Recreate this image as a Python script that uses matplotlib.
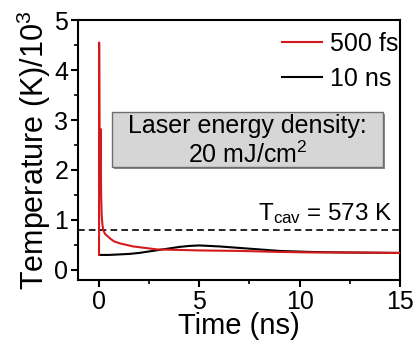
import numpy as np
import matplotlib
matplotlib.use('Agg')
import matplotlib.pyplot as plt
from matplotlib.patches import Rectangle

plt.rcParams['font.family'] = 'Liberation Sans'
plt.rcParams['mathtext.fontset'] = 'custom'
plt.rcParams['mathtext.rm'] = 'Liberation Sans'
plt.rcParams['mathtext.it'] = 'Liberation Sans:italic'

# 500 fs pulse
t_fs = [0, 0.005, 0.03, 0.08, 0.1, 0.13, 0.17, 0.21, 0.3, 0.55, 0.75, 1.05, 1.7, 2.3, 2.9, 4, 5, 7, 9, 10.5, 12, 15]
T_fs = [0.3, 4.55, 1.7, 2.82, 1.6, 1.1, 0.9, 0.8, 0.72, 0.63, 0.57, 0.53, 0.47, 0.44, 0.41, 0.40, 0.39, 0.38, 0.36, 0.35, 0.35, 0.34]

# 10 ns pulse
t_ns = [0, 0.5, 1, 1.5, 2, 2.5, 3, 3.5, 4, 4.5, 5, 5.5, 6, 7, 8, 9, 10.5, 12, 15]
T_ns = [0.3, 0.3, 0.31, 0.32, 0.34, 0.37, 0.40, 0.43, 0.46, 0.48, 0.49, 0.48, 0.47, 0.44, 0.41, 0.38, 0.36, 0.35, 0.34]

T_cav = 0.8

fig = plt.figure(figsize=(4.17, 3.46), dpi=100)
ax = fig.add_axes([0.187, 0.191, 0.772, 0.751])

ax.plot(t_fs, T_fs, color='#d7191c', lw=1.5, label='500 fs', zorder=3)
ax.plot(t_ns, T_ns, color='black', lw=1.5, label='10 ns', zorder=2)
ax.axhline(T_cav, color='black', ls=(0, (4, 2.5)), lw=1.2)

ax.set_xlim(-1.05, 15)
ax.set_ylim(-0.2, 5)
ax.set_xticks([0, 5, 10, 15])
ax.set_yticks([0, 1, 2, 3, 4, 5])
ax.set_xticks([2.5, 7.5, 12.5], minor=True)
ax.set_yticks(np.arange(0.5, 5, 1), minor=True)
ax.tick_params(which='major', direction='out', length=5, width=1.5, labelsize=18, pad=2)
ax.tick_params(which='minor', direction='out', length=3, width=1.2)
for s in ax.spines.values():
    s.set_linewidth(1.5)

ax.set_xlabel('Time (ns)', fontsize=21, labelpad=-1)
ax.set_ylabel('Temperature (K)/10$^3$', fontsize=22, labelpad=1)

# annotation box with shadow
ax.add_patch(Rectangle((0.112, 0.427), 0.841, 0.211, transform=ax.transAxes,
                       facecolor='#8a8a8a', edgecolor='none', zorder=4))
ax.add_patch(Rectangle((0.106, 0.435), 0.841, 0.211, transform=ax.transAxes,
                       facecolor='#d6d6d6', edgecolor='#6e6e6e', lw=1, zorder=5))
ax.text(0.526, 0.535, 'Laser energy density:\n20 mJ/cm$^2$', transform=ax.transAxes,
        ha='center', va='center', fontsize=18, linespacing=1.2, zorder=6)

ax.text(14.65, 0.88, 'T$_{\\rm cav}$ = 573 K', ha='right', va='bottom', fontsize=17.5)

ax.legend(loc='upper right', frameon=False, fontsize=18, handlelength=1.6,
          handletextpad=0.3, labelspacing=0.45, borderaxespad=0, borderpad=0,
          bbox_to_anchor=(0.995, 0.955))

fig.savefig('out.png', dpi=100)
